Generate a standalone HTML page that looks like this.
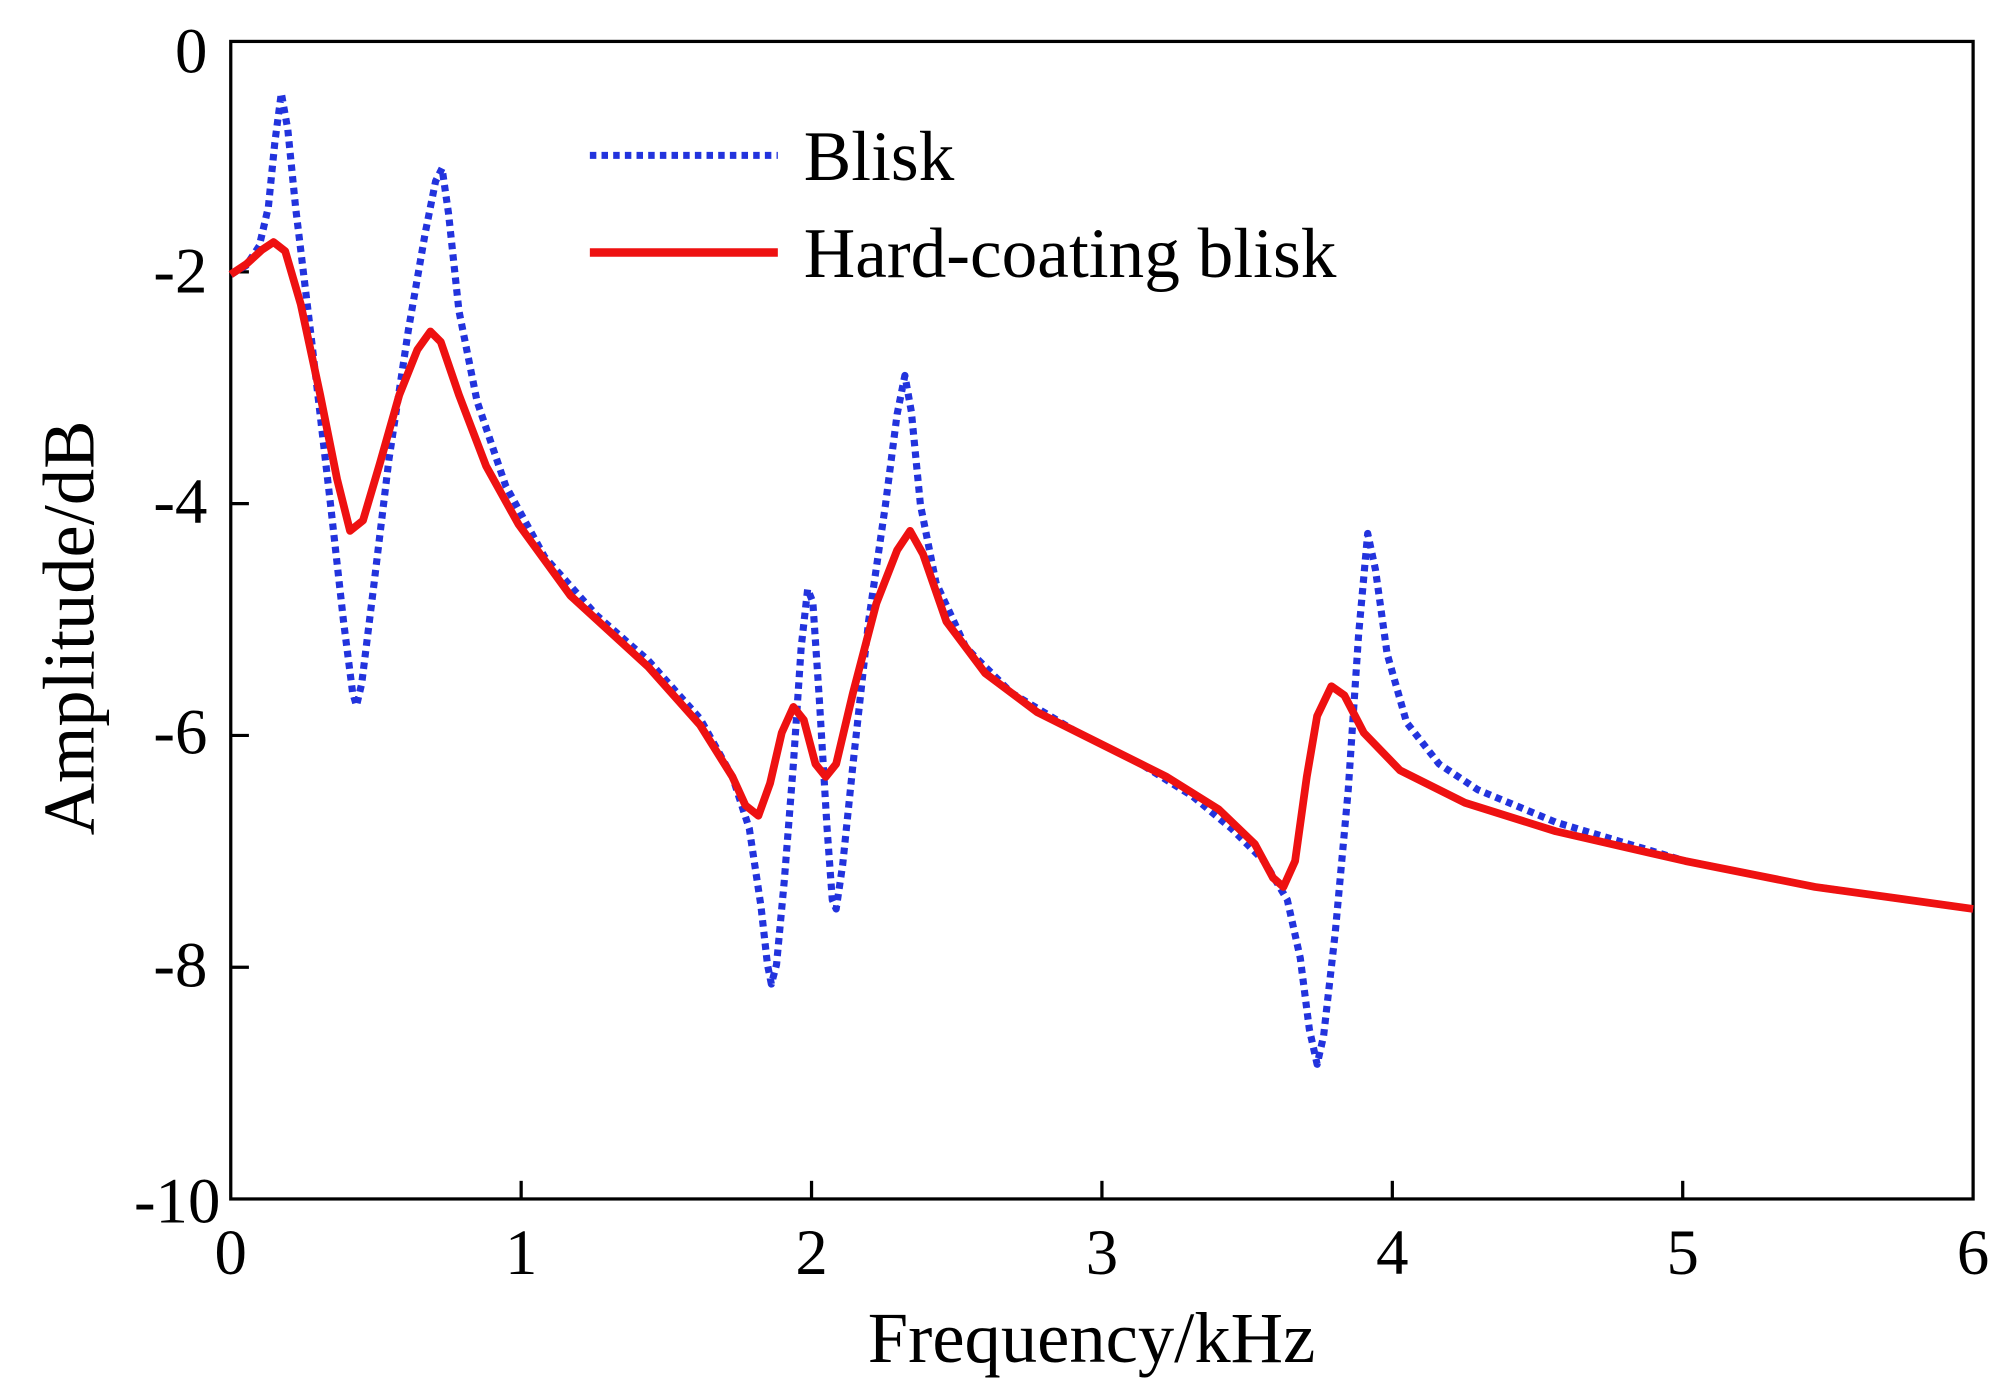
<!DOCTYPE html>
<html><head><meta charset="utf-8"><style>
html,body{margin:0;padding:0;background:#fff;}
svg{display:block;}
text{font-family:"Liberation Serif",serif;fill:#000;}
</style></head><body>
<svg width="2012" height="1388" viewBox="0 0 1552 1072" preserveAspectRatio="none" xmlns="http://www.w3.org/2000/svg">
<rect x="0" y="0" width="1552" height="1072" fill="#fff"/>
<g stroke="#000" stroke-width="2.5">
<rect x="178" y="32" width="1344" height="894" fill="none"/>
<line x1="402" y1="926" x2="402" y2="912"/>
<line x1="626" y1="926" x2="626" y2="912"/>
<line x1="850" y1="926" x2="850" y2="912"/>
<line x1="1074" y1="926" x2="1074" y2="912"/>
<line x1="1298" y1="926" x2="1298" y2="912"/>
<line x1="178" y1="210" x2="192" y2="210"/>
<line x1="178" y1="389" x2="192" y2="389"/>
<line x1="178" y1="568" x2="192" y2="568"/>
<line x1="178" y1="747" x2="192" y2="747"/>
</g>
<g font-size="50" text-anchor="end">
<text x="160" y="56">0</text>
<text x="160" y="226">-2</text>
<text x="160" y="404">-4</text>
<text x="160" y="582">-6</text>
<text x="160" y="762">-8</text>
<text x="170" y="944">-10</text>
</g>
<g font-size="50" text-anchor="middle">
<text x="178" y="984">0</text>
<text x="402" y="984">1</text>
<text x="626" y="984">2</text>
<text x="850" y="984">3</text>
<text x="1074" y="984">4</text>
<text x="1298" y="984">5</text>
<text x="1522" y="984">6</text>
</g>
<text x="842" y="1052" font-size="56" text-anchor="middle">Frequency/kHz</text>
<text transform="translate(72,485) rotate(-90)" font-size="56" text-anchor="middle">Amplitude/dB</text>
<polyline fill="none" stroke="#2233dd" stroke-width="5.5" stroke-dasharray="5,4" stroke-linejoin="round" points="178,212 190,205 200,190 207,160 212,110 217,72 222,100 228,160 240,260 255,390 265,480 272,535 275,545 279,528 288,455 300,355 315,255 328,180 336,140 341,130 346,165 354,240 368,310 390,375 420,430 460,475 500,510 540,555 565,600 578,640 587,700 592,745 595,760 599,745 605,680 612,590 618,500 623,455 627,465 632,540 638,640 642,695 645,702 650,668 658,590 670,480 683,390 692,320 698,290 703,318 710,390 722,450 745,500 780,535 830,565 880,590 920,615 950,640 975,665 993,695 1003,740 1010,795 1016,822 1021,800 1030,720 1040,610 1048,490 1055,412 1061,440 1070,505 1085,558 1110,590 1140,610 1200,635 1300,665 1400,685 1522,702"/>
<polyline fill="none" stroke="#ee1111" stroke-width="6" stroke-linejoin="round" points="178,212 190,204 202,193 211,187 220,194 232,235 247,305 260,370 270,410 280,402 293,358 308,305 322,270 332,256 340,264 354,305 375,360 400,405 440,460 500,515 540,560 565,600 575,622 585,630 594,605 603,566 612,546 620,556 629,590 637,600 645,590 658,535 676,466 692,425 702,410 712,428 730,480 760,520 800,550 850,575 900,600 940,625 968,652 982,678 990,685 999,665 1008,600 1016,553 1027,530 1037,537 1052,566 1080,595 1130,620 1200,642 1300,665 1400,685 1522,702"/>
<line x1="455" y1="120" x2="600" y2="120" stroke="#2233dd" stroke-width="5.5" stroke-dasharray="5,4"/>
<text x="620" y="139" font-size="55">Blisk</text>
<line x1="455" y1="195" x2="600" y2="195" stroke="#ee1111" stroke-width="6.5"/>
<text x="620" y="214" font-size="55">Hard-coating blisk</text>
</svg>
</body></html>
